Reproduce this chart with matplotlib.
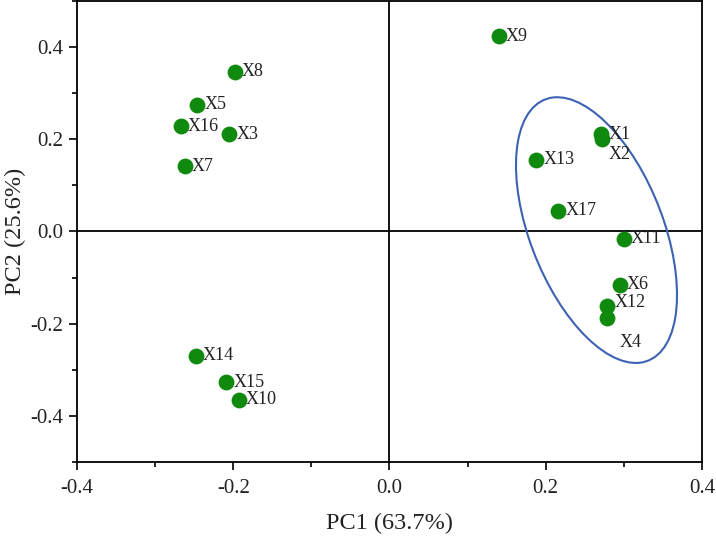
#!/usr/bin/env python3
# -*- coding: utf-8 -*-
import numpy as np
import matplotlib
matplotlib.use("Agg")
import matplotlib.pyplot as plt
from matplotlib.patches import Ellipse
from matplotlib.ticker import MultipleLocator

# PCA scores
samples = ["X1", "X2", "X3", "X4", "X5", "X6", "X7", "X8", "X9",
           "X10", "X11", "X12", "X13", "X14", "X15", "X16", "X17"]
pc1 = [0.271, 0.272, -0.205, 0.279, -0.246, 0.295, -0.262, -0.198, 0.140,
       -0.193, 0.300, 0.279, 0.188, -0.248, -0.209, -0.267, 0.216]
pc2 = [0.211, 0.200, 0.211, -0.187, 0.275, -0.116, 0.141, 0.347, 0.424,
       -0.365, -0.016, -0.161, 0.156, -0.270, -0.327, 0.228, 0.045]

# cluster ellipse (centre, full width / height, angle in degrees)
ell_center = (0.265, 0.003)
ell_width = 0.586
ell_height = 0.177
ell_angle = 100.9

x_label = "PC1 (63.7%)"
y_label = "PC2 (25.6%)"

# label offsets in points, default is right of the dot
label_offset = {"X2": (5, -11), "X4": (9, -18), "X12": (5, 2)}

plt.rcParams['font.family'] = ['Liberation Serif', 'DejaVu Serif']

fig = plt.figure(figsize=(7.16, 5.37), dpi=100)
ax = fig.add_axes([0.1075, 0.1397, 0.8729, 0.8585])

ax.axhline(0, color='black', lw=1.3, zorder=1)
ax.axvline(0, color='black', lw=1.3, zorder=1)

ax.scatter(pc1, pc2, s=130, color='#0f8a0f', zorder=3, linewidths=0)
for name, x, y in zip(samples, pc1, pc2):
    off = label_offset.get(name, (5, 0))
    ax.annotate(name, (x, y), xytext=off, textcoords='offset points',
                ha='left', va='center', fontsize=13, color='#222222', zorder=4)

ell = Ellipse(ell_center, ell_width, ell_height, angle=ell_angle,
              fill=False, edgecolor='#3d62b3', lw=1.5, zorder=2)
ax.add_patch(ell)

ax.set_xlim(-0.4, 0.4)
ax.set_ylim(-0.5, 0.5)
ax.xaxis.set_major_locator(MultipleLocator(0.2))
ax.xaxis.set_minor_locator(MultipleLocator(0.1))
ax.yaxis.set_major_locator(MultipleLocator(0.2))
ax.yaxis.set_minor_locator(MultipleLocator(0.1))
ax.xaxis.set_major_formatter(plt.FuncFormatter(lambda v, p: "%.1f" % v))
ax.yaxis.set_major_formatter(plt.FuncFormatter(lambda v, p: "%.1f" % v))
ax.tick_params(which='both', direction='out', width=1.2, labelsize=15,
               colors='black', labelcolor='#222222')
ax.tick_params(axis='x', which='major', length=6, pad=6)
ax.tick_params(axis='y', which='major', length=6, pad=4)
ax.tick_params(which='minor', length=3.5)
for s in ax.spines.values():
    s.set_linewidth(1.3)

ax.set_xlabel(x_label, fontsize=17.5, color='#222222', labelpad=11)
ax.set_ylabel(y_label, fontsize=17.5, color='#222222', labelpad=3)

fig.savefig("out.png", dpi=100)
